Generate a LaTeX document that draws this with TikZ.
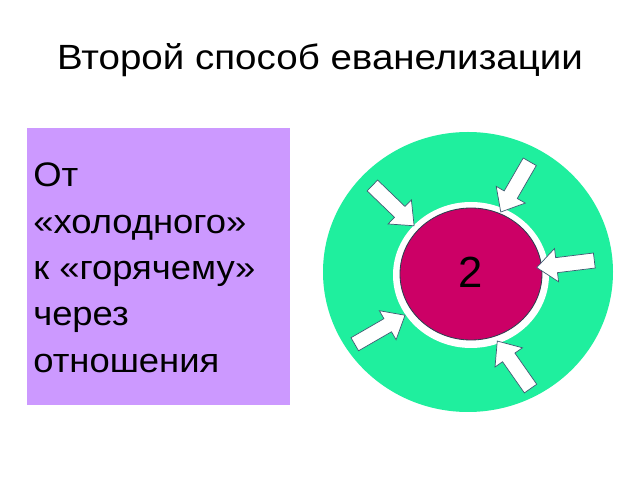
\documentclass[tikz,border=0pt]{standalone}
\usepackage{fontspec}
\setmainfont{Liberation Sans}
\newfontfamily\titlefont{Liberation Sans}[FakeStretch=1.1]
\usepackage{graphicx}
\usepackage{tikz}
\usetikzlibrary{shapes.arrows}

\definecolor{boxviolet}{HTML}{CC99FF}
\definecolor{ringgreen}{HTML}{1FEF9E}
\definecolor{coremagenta}{HTML}{CC0066}
\definecolor{arrowline}{HTML}{3F5B72}

\newcommand{\widelines}[1]{\scalebox{1.07}[1]{\begin{tabular}{@{}l@{}}#1\end{tabular}}}

\begin{document}
\begin{tikzpicture}[
    x=0.025cm, y=0.025cm,
    titlestyle/.style={font=\titlefont\fontsize{24.9pt}{30pt}\selectfont, inner sep=0},
    boxtext/.style={font=\fontsize{24.2pt}{33pt}\selectfont, inner sep=0, anchor=north west},
    blockarrow/.style={single arrow, draw=arrowline, fill=white, line width=0.5pt,
        inner sep=0.18cm, single arrow head extend=0.23cm, single arrow tip angle=80,
        minimum height=1.45cm}
]
\useasboundingbox[fill=white] (0,0) rectangle (640,480);

% title
\node[titlestyle, anchor=base] (title) at (320,410) {Второй способ еванелизации};

% left box
\fill[boxviolet] (27,75) rectangle (290,352);
\node[boxtext] (boxlabel) at (33,326)
    {\widelines{От\\«холодного»\\к «горячему»\\через\\отношения}};

% circles
\fill[ringgreen] (468,208) ellipse (145 and 140);
\fill[white] (471,205) ellipse (78 and 73);
\filldraw[fill=coremagenta, draw=arrowline!70!black, line width=0.6pt] (471,206) ellipse (71 and 66);
\node[font=\fontsize{31pt}{36pt}\selectfont] (core) at (471,208) {2};

% arrows pointing at the core
\node[blockarrow, rotate=-44] (a1) at (390,277.5) {};
\node[blockarrow, rotate=-120] (a2) at (517.5,297) {};
\node[blockarrow, rotate=187] (a3) at (570,216.5) {};
\node[blockarrow, rotate=30] (a4) at (376,148) {};
\node[blockarrow, rotate=125] (a5) at (516.5,111.5) {};

\end{tikzpicture}
\end{document}
